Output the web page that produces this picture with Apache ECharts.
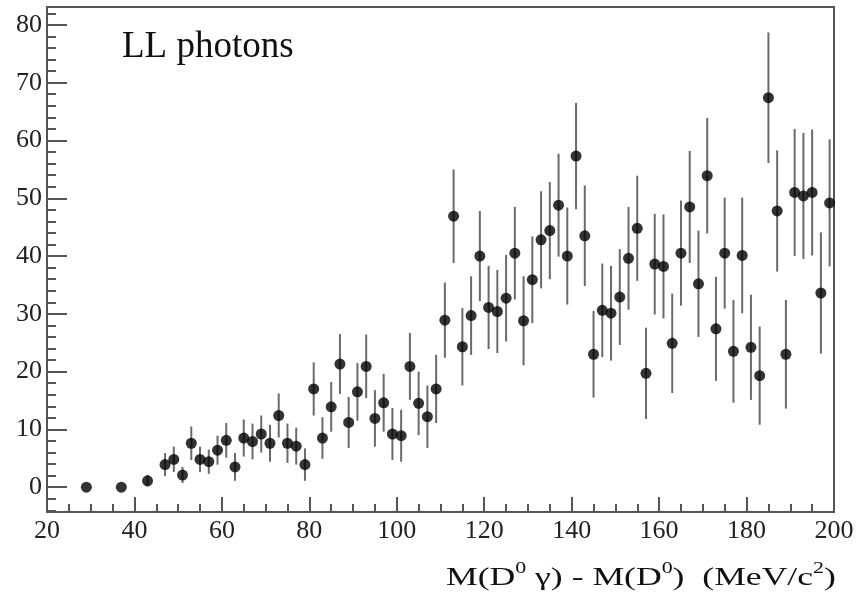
<!DOCTYPE html>
<html>
<head>
<meta charset="utf-8">
<script src="https://cdn.jsdelivr.net/npm/echarts@6/dist/echarts.min.js"></script>
<style>
html,body{margin:0;padding:0;background:#fff;}
#c{width:858px;height:594px;}
</style>
</head>
<body>
<div id="c"></div>
<script>
// Bin centers (MeV/c^2)
var binX = [29,37,43,47,49,51,53,55,57,59,61,63,65,67,69,71,73,75,77,79,81,83,85,87,89,91,93,95,97,99,101,103,105,107,109,111,113,115,117,119,121,123,125,127,129,131,133,135,137,139,141,143,145,147,149,151,153,155,157,159,161,163,165,167,169,171,173,175,177,179,181,183,185,187,189,191,193,195,197,199];
// Counts
var counts = [0,0,1.1,3.9,4.8,2.1,7.6,4.8,4.4,6.4,8.1,3.5,8.5,7.9,9.2,7.6,12.4,7.6,7.1,3.9,17.0,8.5,13.9,21.3,11.2,16.5,20.9,11.9,14.6,9.2,8.9,20.9,14.5,12.2,17.0,28.9,46.9,24.3,29.7,40.0,31.1,30.4,32.7,40.5,28.8,35.9,42.8,44.4,48.8,40.0,57.3,43.5,23.0,30.6,30.1,32.9,39.6,44.8,19.7,38.6,38.2,24.9,40.5,48.5,35.2,53.9,27.4,40.5,23.5,40.1,24.2,19.3,67.4,47.8,23.0,51.0,50.4,51.0,33.6,49.2];
// Symmetric errors
var errors = [0,0,1.0,2.0,2.2,1.4,2.9,2.2,2.1,2.5,3.0,2.4,3.2,3.1,3.2,3.2,3.8,3.4,3.2,2.8,4.6,3.6,4.3,5.2,4.4,5.0,5.5,4.9,5.0,4.5,4.5,5.8,5.5,5.4,5.9,6.5,8.1,6.7,6.8,7.8,7.2,7.2,7.5,8.0,7.7,7.5,8.4,8.4,8.9,8.4,9.2,8.7,7.5,8.1,8.2,8.3,8.9,9.1,7.9,8.7,9.0,8.6,9.1,9.7,9.2,10.0,9.0,9.6,8.9,10.0,9.1,8.5,11.3,10.5,9.4,11.0,10.9,10.9,10.5,11.0];
// Axis ticks
var xMajorTicks = [20,40,60,80,100,120,140,160,180,200];
var yMajorTicks = [0,10,20,30,40,50,60,70,80];
var yMinorTicks = [-4,-2,0,2,4,6,8,10,12,14,16,18,20,22,24,26,28,30,32,34,36,38,40,42,44,46,48,50,52,54,56,58,60,62,64,66,68,70,72,74,76,78,80,82];

var pts = binX.map(function(x,i){ return [x, counts[i]]; });
var bars = binX.map(function(x,i){ return [x, counts[i]-errors[i], counts[i]+errors[i]]; }).filter(function(d){ return d[2] > d[1]; });

var serif = '"Liberation Serif","DejaVu Serif",serif';
var axisCol = '#555';

var chart = echarts.init(document.getElementById('c'));
chart.setOption({
  animation: false,
  backgroundColor: '#fff',
  title: [
    { text: 'LL photons', left: 117, top: 24,
      textStyle: { fontFamily: serif, fontSize: 37, fontWeight: 'normal', color: '#111' } }
  ],
  graphic: [
    { type: 'text', x: 446, y: 561, scaleX: 1.37, scaleY: 1,
      style: { text: 'M(D{s|0} γ) - M(D{s|0})  (MeV/c{s|2})', fontFamily: serif, fontSize: 26, fill: '#111',
        textAlign: 'left', textVerticalAlign: 'top', lineHeight: 34,
        rich: { s: { fontFamily: serif, fontSize: 16, verticalAlign: 'top', lineHeight: 16, fill: '#111' } } } }
  ],
  grid: { left: 47, right: 24, top: 7, bottom: 82, show: true, borderColor: axisCol, borderWidth: 2, backgroundColor: '#fff' },
  xAxis: {
    type: 'value', min: 20, max: 200, interval: 20,
    axisLine: { show: true, onZero: false, lineStyle: { color: axisCol, width: 2 } },
    axisTick: { show: true, inside: true, length: 15, lineStyle: { color: axisCol, width: 2 } },
    minorTick: { show: true, splitNumber: 4, length: 8, lineStyle: { color: axisCol, width: 2 } },
    splitLine: { show: false },
    axisLabel: { fontFamily: serif, fontSize: 26, color: '#222', margin: 6 }
  },
  yAxis: [
    {
      type: 'value', min: -4.3, max: 83.1,
      axisLine: { show: true, lineStyle: { color: axisCol, width: 2 } },
      axisTick: { show: true, inside: true, length: 20, customValues: yMajorTicks, lineStyle: { color: axisCol, width: 2 } },
      splitLine: { show: false },
      axisLabel: { fontFamily: serif, fontSize: 26, color: '#222', margin: 5, customValues: yMajorTicks }
    },
    {
      type: 'value', min: -4.3, max: 83.1, position: 'left',
      axisLine: { show: false },
      axisTick: { show: true, inside: true, length: 9, customValues: yMinorTicks, lineStyle: { color: axisCol, width: 2 } },
      splitLine: { show: false },
      axisLabel: { show: false }
    }
  ],
  series: [
    {
      type: 'custom',
      data: bars,
      z: 2,
      renderItem: function(params, api){
        var p1 = api.coord([api.value(0), api.value(1)]);
        var p2 = api.coord([api.value(0), api.value(2)]);
        return { type: 'line', shape: { x1: p1[0], y1: p1[1], x2: p2[0], y2: p2[1] },
                 style: { stroke: '#6a6a6a', lineWidth: 2 } };
      },
      encode: { x: 0, y: [1,2] }
    },
    {
      type: 'scatter',
      data: pts,
      z: 3,
      symbol: 'circle',
      symbolSize: 11,
      itemStyle: { color: '#000' }
    }
  ]
});
</script>
</body>
</html>
